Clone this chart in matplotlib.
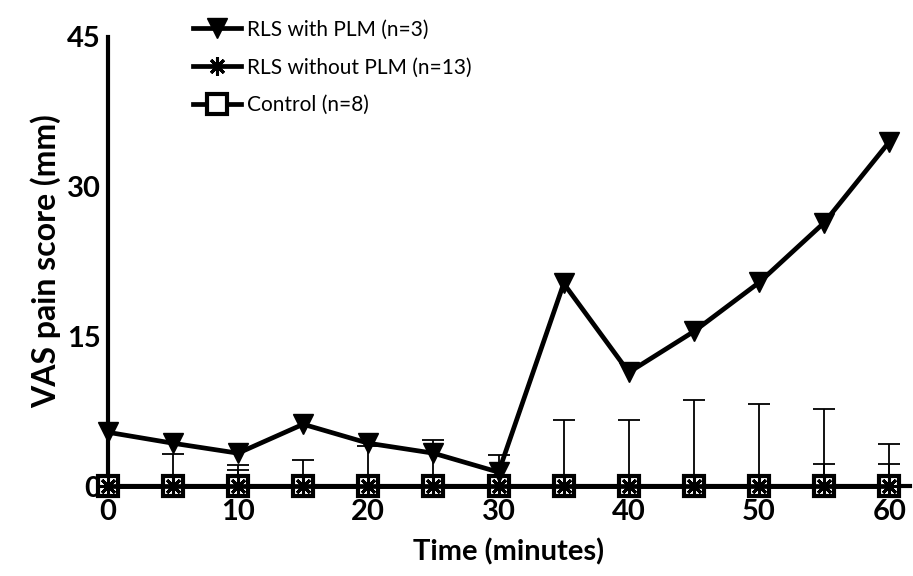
import numpy as np
import matplotlib.pyplot as plt

plt.rcParams['font.family'] = ['Lato', 'DejaVu Sans']

# Data
time = [0, 5, 10, 15, 20, 25, 30, 35, 40, 45, 50, 55, 60]
plm_mean = [5.4, 4.3, 3.3, 6.2, 4.3, 3.3, 1.4, 20.3, 11.4, 15.5, 20.4, 26.4, 34.5]
noplm_mean = [0, 0, 0, 0, 0, 0, 0, 0, 0, 0, 0, 0, 0]
noplm_sd = [0, 3.2, 2.1, 2.6, 4.0, 4.6, 3.1, 6.6, 6.6, 8.6, 8.2, 7.7, 4.2]
ctrl_mean = [0, 0, 0, 0, 0, 0, 0, 0, 0, 0, 0, 0, 0]
ctrl_sd = [0, 0, 1.6, 0, 0, 0, 0, 0, 0, 0, 0, 2.2, 2.2]

fig = plt.figure(figsize=(9.13, 5.76), dpi=100)
ax = fig.add_axes([0.118, 0.156, 0.879, 0.78])

zeros = np.zeros(len(time))

# error bars (upper only)
ax.errorbar(time, noplm_mean, yerr=[zeros, noplm_sd], fmt='none', ecolor='black',
            elinewidth=1.3, capsize=8, capthick=1.3, clip_on=False)
ax.errorbar(time, ctrl_mean, yerr=[zeros, ctrl_sd], fmt='none', ecolor='black',
            elinewidth=1.3, capsize=8, capthick=1.3, clip_on=False)

ax.plot(time, ctrl_mean, color='black', lw=3.4, marker='s', ms=15, mfc='white',
        mec='black', mew=3, label='Control (n=8)', clip_on=False, zorder=3)
ax.plot(time, noplm_mean, color='black', lw=3.4, marker=(8, 2, 0), ms=13, mew=2.2,
        label='RLS without PLM (n=13)', clip_on=False, zorder=4)
ax.plot(time, plm_mean, color='black', lw=3.4, marker='v', ms=14,
        label='RLS with PLM (n=3)', clip_on=False, zorder=5)

ax.set_xlim(0, 61.6)
ax.set_ylim(0, 45)
ax.set_xticks([0, 10, 20, 30, 40, 50, 60])
ax.set_yticks([0, 15, 30, 45])

ax.spines['top'].set_visible(False)
ax.spines['right'].set_visible(False)
ax.spines['left'].set_linewidth(3)
ax.spines['bottom'].set_linewidth(3)
ax.tick_params(axis='both', length=0, labelsize=21)
ax.tick_params(axis='x', pad=9)
ax.tick_params(axis='y', pad=5)
for lab in ax.get_xticklabels() + ax.get_yticklabels():
    lab.set_fontweight('bold')

ax.set_xlabel('Time (minutes)', fontsize=21, fontweight='bold', labelpad=10)
ax.set_ylabel('VAS pain score (mm)', fontsize=23, fontweight='bold', labelpad=4)

handles, labels = ax.get_legend_handles_labels()
ax.legend(handles[::-1], labels[::-1], loc='upper left', bbox_to_anchor=(0.083, 1.08),
          frameon=False, fontsize=15, handlelength=2.3, handletextpad=0.3,
          labelspacing=0.85, markerscale=1.0)

fig.savefig('out.png', dpi=100)
